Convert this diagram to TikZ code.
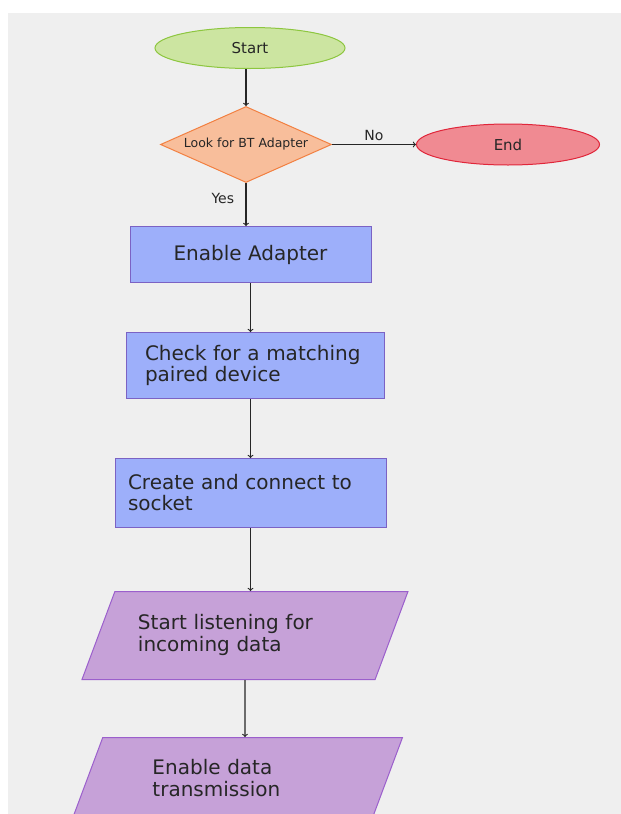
\documentclass[tikz,border=0pt]{standalone}
\usepackage{fontspec}
\setmainfont{DejaVu Sans}
\usetikzlibrary{positioning,shapes.geometric}

\definecolor{fond}{HTML}{EFEFEF}
\definecolor{encre}{HTML}{262626}
\definecolor{vert}{HTML}{CCE5A1}
\definecolor{vertbord}{HTML}{8DC63F}
\definecolor{losange}{HTML}{F8BE9B}
\definecolor{losangebord}{HTML}{F28041}
\definecolor{rouge}{HTML}{F08A92}
\definecolor{rougebord}{HTML}{E0263A}
\definecolor{boite}{HTML}{9DAFFA}
\definecolor{boitebord}{HTML}{7B62C4}
\definecolor{para}{HTML}{C6A1D8}
\definecolor{parabord}{HTML}{9B5FCC}

\tikzset{
  terminal/.style={ellipse, line width=1pt, minimum height=41pt, inner sep=0pt, font=\fontsize{15}{18}\selectfont},
  decision/.style={diamond, draw=losangebord, fill=losange, line width=1pt, shape aspect=2.25,
    minimum width=171pt, minimum height=76pt, inner sep=1pt, font=\fontsize{12.5}{15}\selectfont},
  process/.style={rectangle, draw=boitebord, fill=boite, line width=1pt, align=left, font=\fontsize{20}{21}\selectfont},
  io/.style={trapezium, trapezium left angle=69.5, trapezium right angle=110.5, trapezium stretches body,
    draw=parabord, fill=para, line width=1pt, align=left, inner ysep=0pt, font=\fontsize{20}{22}\selectfont},
  flow/.style={->, line width=1.1pt, draw=encre},
  answer/.style={font=\fontsize{14}{16}\selectfont}
}

\begin{document}
\begin{tikzpicture}[x=1pt, y=-1pt, node distance=40pt, text=encre]
  % Fond
  \path[fill=white, use as bounding box] (0,0) rectangle (621,814);
  \fill[fond] (8,13) rectangle (621,814);

  % Les étapes
  \node[terminal, draw=vertbord, fill=vert, minimum width=190pt] (start) at (250,48) {Start};
  \node[decision, below=37pt of start, xshift=-4pt] (lookup) {Look for BT Adapter};
  \node[terminal, draw=rougebord, fill=rouge, minimum width=183pt, right=84pt of lookup] (finish) {End};
  \node[process, minimum width=241pt, minimum height=56pt, below=43pt of lookup, xshift=4.5pt] (enable) {Enable Adapter};
  \node[process, text width=220pt, minimum width=258pt, minimum height=66pt, below=49pt of enable, xshift=4.5pt] (check) {Check for a matching\\paired device};
  \node[process, text width=245pt, minimum width=271pt, minimum height=69pt, below=59pt of check, xshift=-4.5pt] (socket) {Create and connect to\\socket};
  \node[io, text width=214pt, text height=38pt, text depth=50pt, minimum width=326pt, below=63pt of socket, xshift=-5.5pt] (listen) {Start listening for\\incoming data};
  \node[io, text width=170pt, text height=37pt, text depth=44pt, minimum width=330pt, below=57pt of listen, xshift=-7.5pt] (transmit) {Enable data\\transmission};

  % Les flèches
  \draw[flow] (lookup.north |- start.south) -- (lookup.north);
  \draw[flow] (lookup) -- node[answer, above] {No} (finish);
  \draw[flow] (lookup.south) -- node[answer, left=8pt, pos=.37] {Yes} (lookup.south |- enable.north);
  \draw[flow] (enable) -- (enable |- check.north);
  \draw[flow] (socket.north |- check.south) -- (socket);
  \draw[flow] (socket) -- (socket |- listen.north);
  \draw[flow] (listen) -- (listen |- transmit.north);
\end{tikzpicture}
\end{document}
